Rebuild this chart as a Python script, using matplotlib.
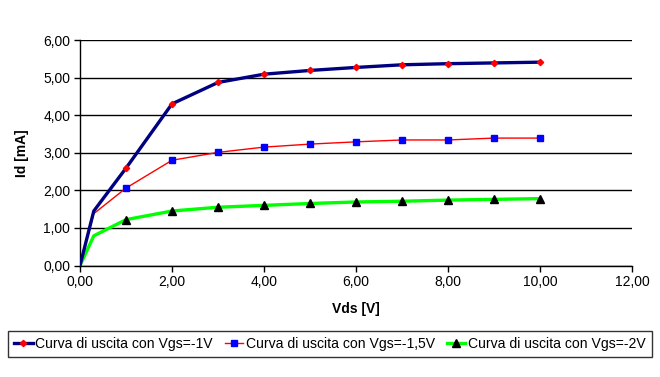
import numpy as np
from matplotlib import pyplot as plt

plt.rcParams['font.family'] = ['Liberation Sans', 'DejaVu Sans']

# ---- data ----
vds = [0, 0.3, 1, 2, 3, 4, 5, 6, 7, 8, 9, 10]
id_vgs_1 = [0, 1.45, 2.59, 4.30, 4.87, 5.09, 5.19, 5.27, 5.34, 5.37, 5.39, 5.41]
id_vgs_15 = [0, 1.38, 2.06, 2.80, 3.01, 3.15, 3.23, 3.29, 3.34, 3.34, 3.39, 3.39]
id_vgs_2 = [0, 0.79, 1.22, 1.45, 1.55, 1.60, 1.65, 1.69, 1.71, 1.74, 1.76, 1.78]

labels = ['Curva di uscita con Vgs=-1V',
          'Curva di uscita con Vgs=-1,5V',
          'Curva di uscita con Vgs=-2V']


def comma_fmt(v, pos):
    return format(v, '.2f').replace('.', ',')


fig = plt.figure(figsize=(6.6, 3.77), dpi=100)
ax = fig.add_axes([80 / 660, 1 - 265.5 / 377, 552 / 660, 225.5 / 377])

# markers start at the third point (no marker at 0 and 0,3)
mk = slice(2, None)
l1, = ax.plot(vds, id_vgs_1, color='#000080', lw=2.4, marker='D', ms=3.2,
              mfc='red', mec='red', markevery=mk, label=labels[0], zorder=5)
l2, = ax.plot(vds, id_vgs_15, color='red', lw=1.0, marker='s', ms=4.6,
              mfc='#0000FF', mec='#0000FF', markevery=mk, label=labels[1], zorder=4)
l3, = ax.plot(vds, id_vgs_2, color='#00FF00', lw=2.4, marker='^', ms=5.2,
              mfc='black', mec='black', markevery=mk, label=labels[2], zorder=3)

ax.set_xlim(0, 12)
ax.set_ylim(0, 6)
ax.set_xticks(np.arange(0, 13, 2))
ax.set_yticks(np.arange(0, 7, 1))
ax.xaxis.set_major_formatter(plt.FuncFormatter(comma_fmt))
ax.yaxis.set_major_formatter(plt.FuncFormatter(comma_fmt))
ax.tick_params(direction='out', length=4, width=1, color='black',
               labelsize=10, pad=3)
ax.yaxis.grid(True, color='black', lw=1)
ax.set_axisbelow(True)
for s in ['top', 'right']:
    ax.spines[s].set_visible(False)
for s in ['left', 'bottom']:
    ax.spines[s].set_color('black')
    ax.spines[s].set_linewidth(1)

ax.set_xlabel('Vds [V]', fontweight='bold', fontsize=10, labelpad=9)
ax.set_ylabel('Id [mA]', fontweight='bold', fontsize=10, labelpad=10)

leg = fig.legend(handles=[l1, l2, l3], loc='center', ncol=3,
                 bbox_to_anchor=(0.5, 1 - 344 / 377), fontsize=10.1,
                 frameon=True, fancybox=False, edgecolor='black',
                 handlelength=1.3, handletextpad=0.2, columnspacing=0.85,
                 borderpad=0.45, borderaxespad=0.2, markerscale=1.0)
leg.get_frame().set_linewidth(1)

fig.savefig('out.png', dpi=100)
